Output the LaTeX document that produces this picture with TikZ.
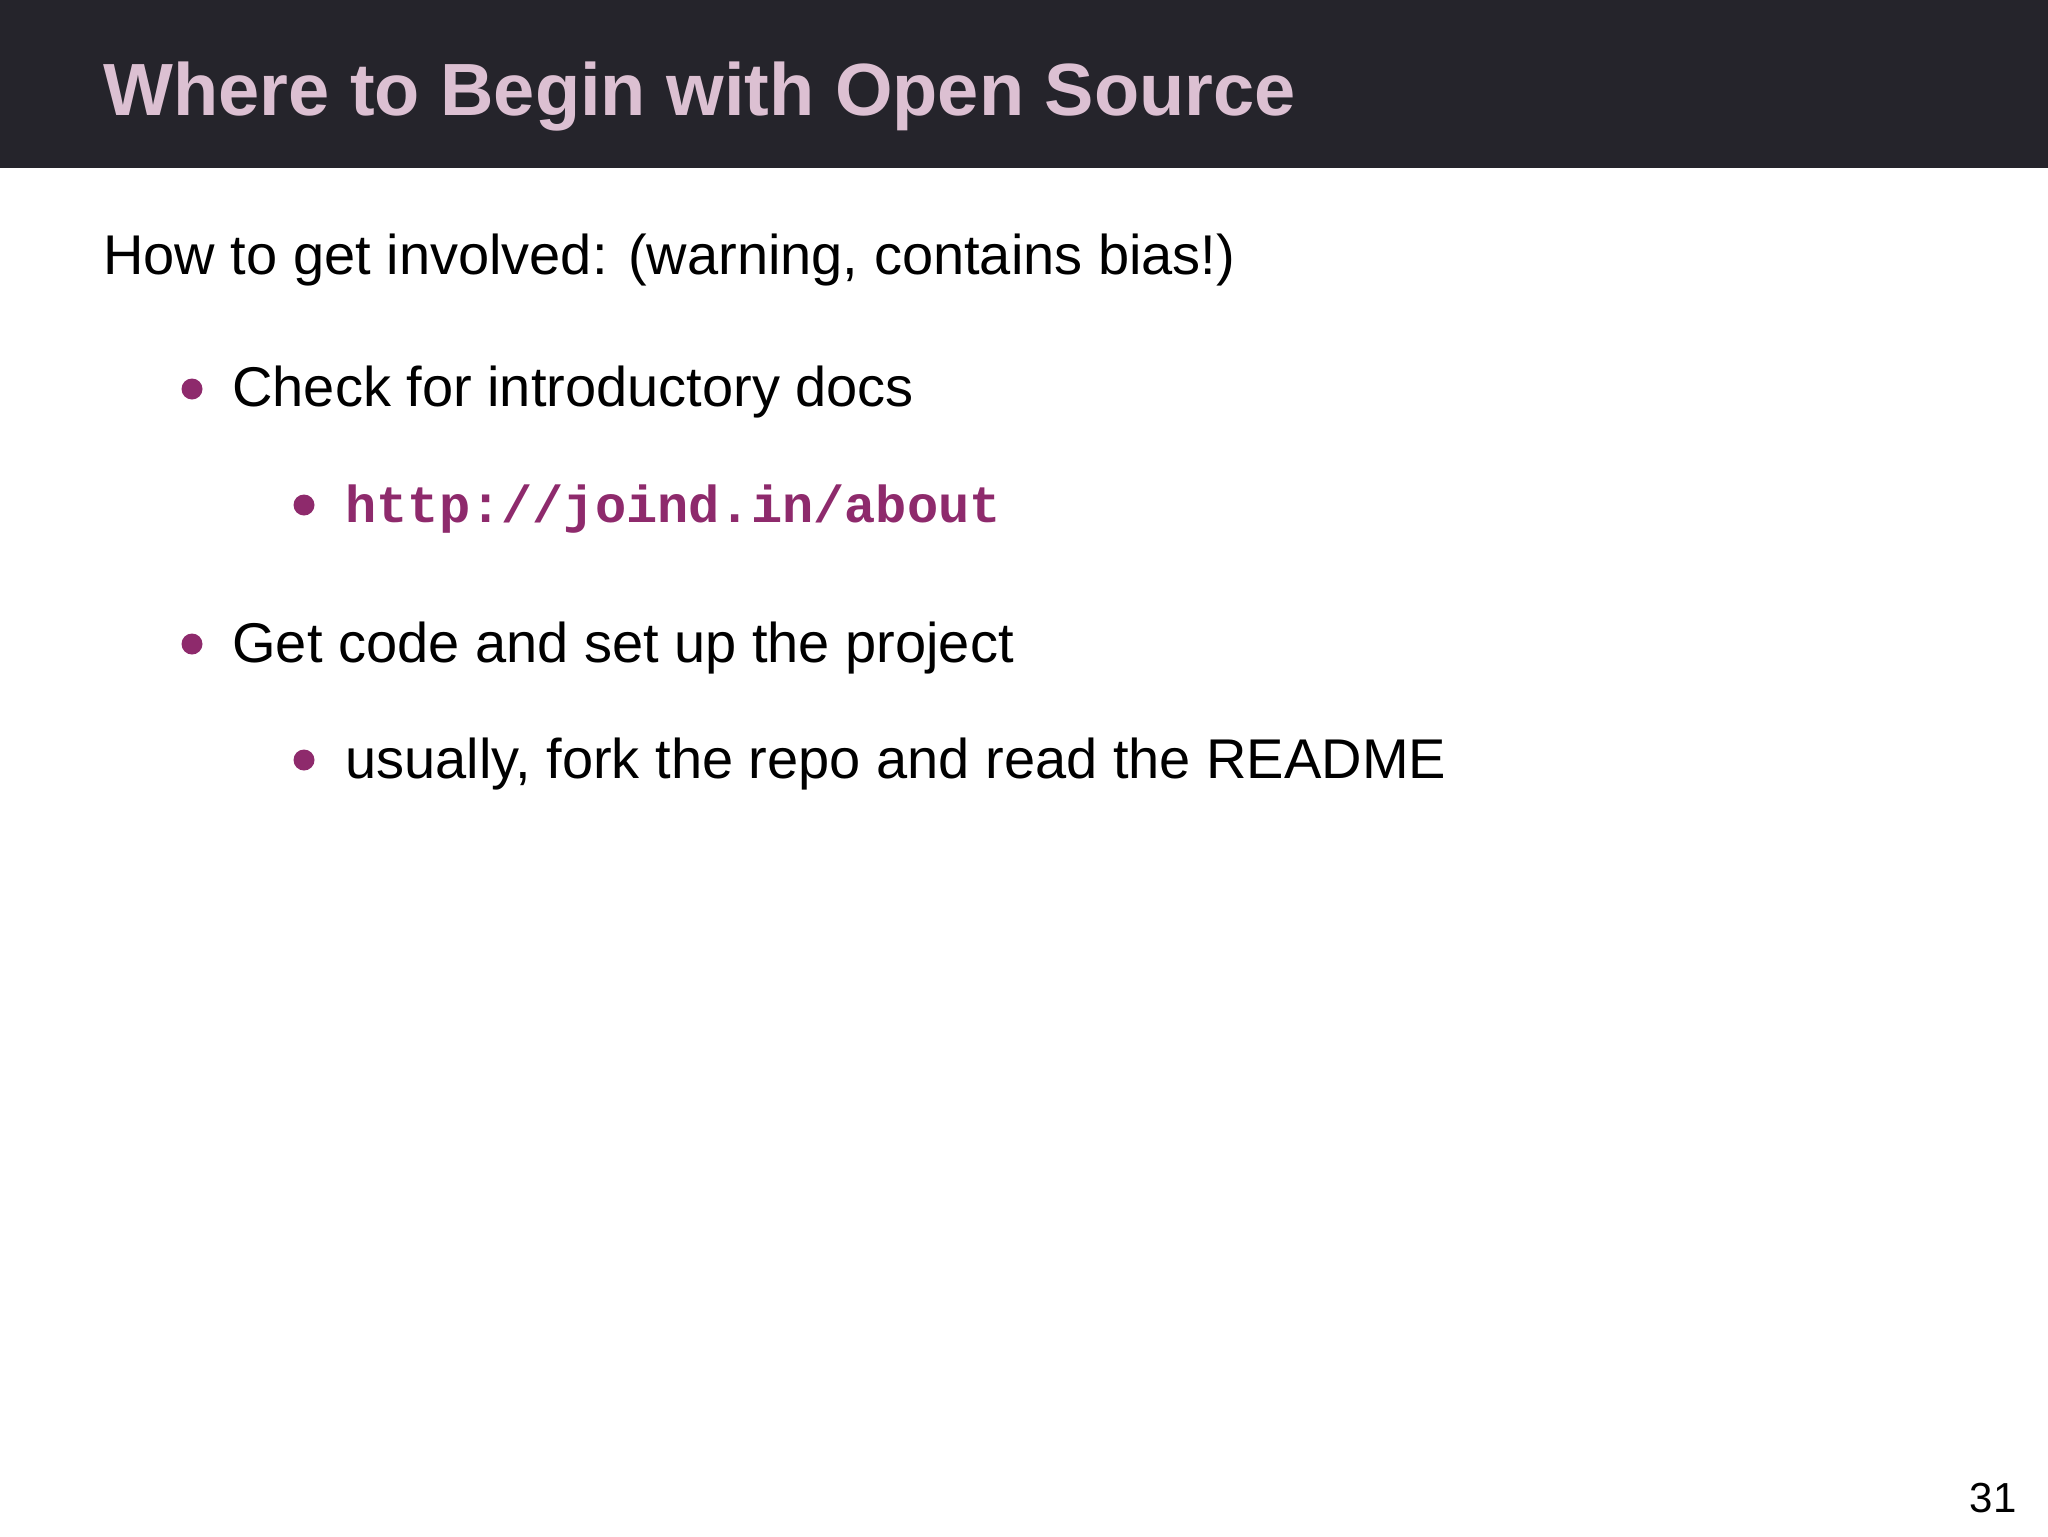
\documentclass[tikz,border=0pt]{standalone}
\usepackage{fontspec}
\setmainfont{Liberation Sans}
\newfontfamily\monof{Liberation Mono}
\definecolor{hdr}{HTML}{25242B}
\definecolor{ttl}{HTML}{DCC0D2}
\definecolor{purp}{HTML}{8E2A6C}
\begin{document}
\begin{tikzpicture}[x=0.5pt,y=-0.5pt,
  txt/.style={anchor=base west,inner sep=0pt,font=\fontsize{28}{34}\selectfont},
  dot/.style={fill=purp,circle,inner sep=0pt,minimum size=10.5pt}]
\useasboundingbox (0,0) rectangle (2048,1536);
\fill[hdr] (0,0) rectangle (2048,168);
\node[anchor=base west,inner sep=0pt,text=ttl,font=\fontsize{37}{44}\selectfont\bfseries] (title) at (103,115) {Where to Begin with Open Source};
\node[txt] (how) at (103,274) {How to get involved: (warning, contains bias!)};
\node[dot] (d1) at (192,389) {};
\node[txt] (b1) at (232,406) {Check for introductory docs};
\node[dot] (d2) at (304,505) {};
\node[txt,text=purp,font=\fontsize{26}{32}\selectfont\monof\bfseries] (u) at (345,522) {http://joind.in/about};
\node[dot] (d3) at (192,644) {};
\node[txt] (b2) at (232,662) {Get code and set up the project};
\node[dot] (d4) at (304,760) {};
\node[txt] (b3) at (345,778) {usually, fork the repo and read the README};
\node[anchor=base east,inner sep=0pt,font=\fontsize{21}{24}\selectfont] (pg) at (2017,1512) {31};
\end{tikzpicture}
\end{document}
